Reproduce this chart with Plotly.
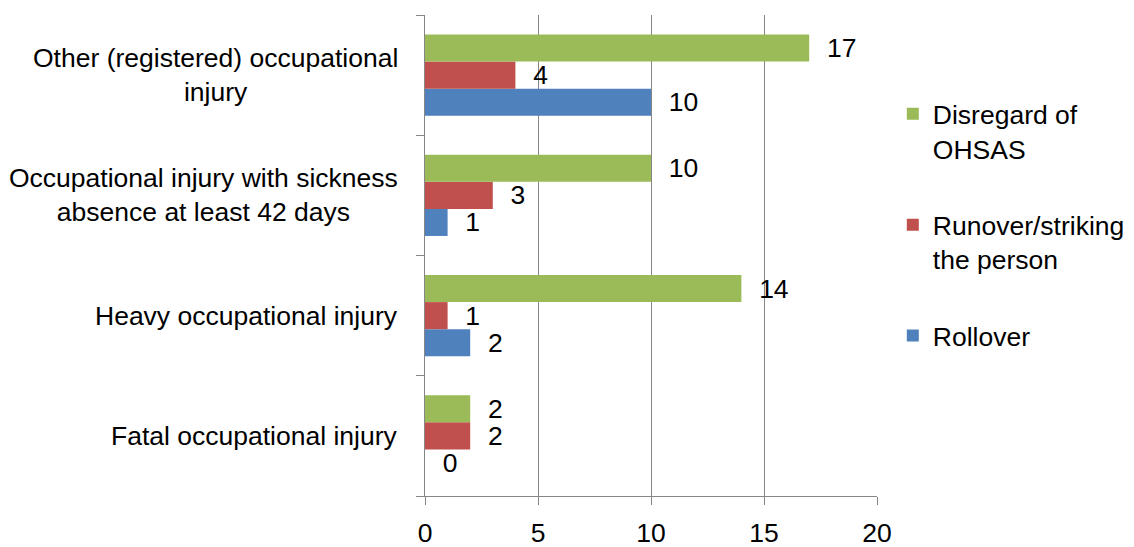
import plotly.graph_objects as go

# categories bottom -> top (Plotly category axis draws first at bottom)
categories = [
    "Fatal occupational injury",
    "Heavy occupational injury",
    "Occupational injury with sickness<br>absence at least 42 days",
    "Other (registered) occupational<br>injury",
]
rollover = [0, 2, 1, 10]
runover = [2, 1, 3, 4]
disregard = [2, 14, 10, 17]

series = [
    ("Rollover", rollover, "#4F81BD", 3),
    ("Runover/striking<br>the person", runover, "#C0504D", 2),
    ("Disregard of<br>OHSAS", disregard, "#9BBB59", 1),
]

FONT = "Liberation Sans, Arial, sans-serif"
FS = 26.5
pad = "\u00a0\u00a0"

fig = go.Figure()
for name, vals, color, rank in series:
    fig.add_trace(go.Bar(
        y=categories, x=vals, orientation="h", name=name,
        marker=dict(color=color, line=dict(width=0)),
        text=[pad + str(v) for v in vals], textposition="outside",
        textfont=dict(family=FONT, size=FS, color="black"),
        constraintext="none", cliponaxis=False,
        legendgroup=name, legendrank=rank,
    ))

for c in categories:
    fig.add_annotation(
        x=0, xref="paper", y=c, yref="y", xshift=-25,
        xanchor="right", yanchor="middle", align="center",
        text=c, showarrow=False,
        font=dict(family=FONT, size=FS, color="black"),
    )

fig.update_layout(
    width=1134, height=547,
    margin=dict(l=425, r=257, t=15, b=51, autoexpand=False),
    paper_bgcolor="white", plot_bgcolor="white",
    barmode="group", bargap=0.325, bargroupgap=0,
    font=dict(family=FONT, size=FS, color="black"),
    legend=dict(
        x=1.035, y=0.844, xanchor="left", yanchor="top",
        traceorder="grouped", tracegroupgap=39,
        valign="top", font=dict(family=FONT, size=FS, color="black"),
        itemclick=False,
    ),
    xaxis=dict(
        range=[0, 20], dtick=5, tick0=0, automargin=False,
        showgrid=True, gridcolor="#868686", gridwidth=1,
        showline=True, linecolor="#868686", linewidth=1,
        ticks="outside", ticklen=8, tickcolor="#868686",
        ticklabelstandoff=5,
        zeroline=False,
        tickfont=dict(family=FONT, size=FS, color="black"),
    ),
    yaxis=dict(
        automargin=False,
        showgrid=False, showline=True, linecolor="#868686", linewidth=1,
        ticks="outside", ticklen=8, tickcolor="#868686",
        tickson="boundaries", showticklabels=False,
    ),
)

fig.write_html("out.html", config={"displayModeBar": False},
               post_script="document.body.style.margin='0px';")
